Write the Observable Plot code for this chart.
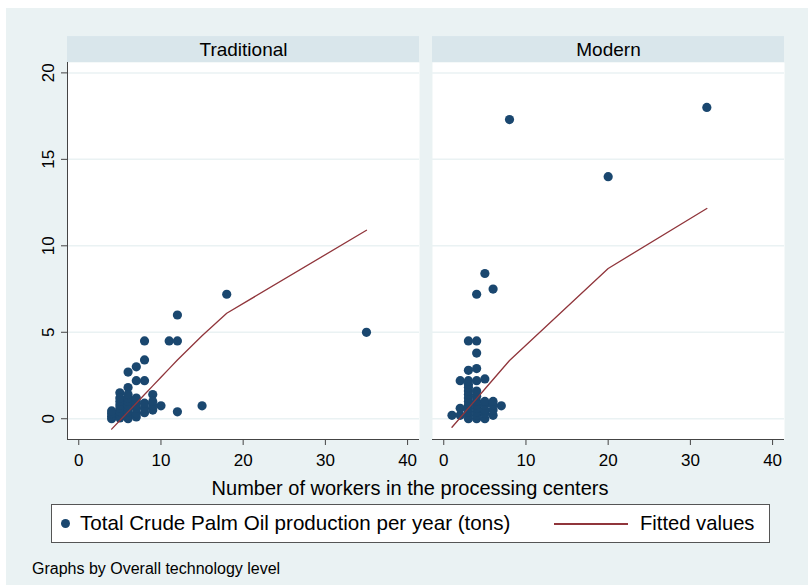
<!DOCTYPE html>
<html>
<head>
<meta charset="utf-8">
<script src="https://cdn.jsdelivr.net/npm/d3@7"></script>
<script src="https://cdn.jsdelivr.net/npm/@observablehq/plot@0.6"></script>
<style>
  body { margin: 0; background: #ffffff; font-family: "Liberation Sans", Arial, sans-serif; }
  #bg { position: absolute; left: 6px; top: 8px; width: 802px; height: 577px; background: #eaf2f3; }
  #chart { position: absolute; left: 0; top: 0; }
  #xtitle { position: absolute; left: 0; width: 820px; top: 477px; text-align: center; font-size: 20px; line-height: 22px; color: #000; }
  #legend { position: absolute; left: 51px; top: 504px; width: 717px; height: 37px; background: #fff; border: 1px solid #555; }
  #legend .dot { position: absolute; left: 9px; top: 14px; width: 9px; height: 9px; border-radius: 50%; background: #1a476f; }
  #legend .t1 { position: absolute; left: 28px; top: 7px; font-size: 20.6px; line-height: 22px; white-space: nowrap; }
  #legend .ln { position: absolute; left: 502px; top: 18px; width: 74px; height: 2px; background: #90353b; }
  #legend .t2 { position: absolute; left: 588px; top: 7px; font-size: 20.2px; line-height: 22px; white-space: nowrap; }
  #caption { position: absolute; left: 32px; top: 560px; font-size: 16px; line-height: 17px; white-space: nowrap; }
</style>
</head>
<body>
<div id="bg"></div>
<div id="chart"></div>
<div id="xtitle"></div>
<div id="legend"><div class="dot"></div><div class="t1"></div><div class="ln"></div><div class="t2"></div></div>
<div id="caption"></div>
<script>
const facets = ["Traditional", "Modern"];
const xTicks = [0, 10, 20, 30, 40];
const yTicks = [0, 5, 10, 15, 20];
const xTitle = "Number of workers in the processing centers";
const legendPoints = "Total Crude Palm Oil production per year (tons)";
const legendFit = "Fitted values";
const caption = "Graphs by Overall technology level";

// Traditional: workers (x) vs CPO production (tons)
const tradX = [35, 18, 12, 8, 11, 12, 8, 7, 6, 7, 8, 6, 5, 9, 10, 12, 15,
  4, 4, 4, 4,
  5, 5, 5, 5, 5, 5, 5,
  6, 6, 6, 6, 6, 6, 6, 6,
  7, 7, 7, 7, 7, 7,
  8, 8, 8,
  9, 9, 9];
const tradY = [5.0, 7.2, 6.0, 4.5, 4.5, 4.5, 3.4, 3.0, 2.7, 2.2, 2.2, 1.8, 1.5, 1.4, 0.75, 0.4, 0.75,
  0.0, 0.15, 0.3, 0.45,
  0.05, 0.2, 0.4, 0.6, 0.8, 1.0, 1.2,
  0.0, 0.2, 0.4, 0.6, 0.8, 1.0, 1.2, 1.4,
  0.1, 0.3, 0.6, 0.8, 1.0, 1.2,
  0.35, 0.6, 0.9,
  0.5, 0.75, 1.0];

// Modern
const modX = [8, 20, 32, 5, 6, 4, 3, 4, 4, 3, 4, 2, 5, 7, 1,
  2, 2,
  3, 3, 3, 3, 3, 3, 3, 3, 3, 3, 3, 3,
  4, 4, 4, 4, 4, 4, 4, 4, 4,
  5, 5, 5, 5, 5,
  6, 6, 6, 6];
const modY = [17.3, 14.0, 18.0, 8.4, 7.5, 7.2, 4.5, 4.5, 3.8, 2.8, 2.9, 2.2, 2.3, 0.75, 0.2,
  0.2, 0.6,
  0.0, 0.2, 0.4, 0.6, 0.8, 1.0, 1.2, 1.4, 1.6, 1.8, 2.0, 2.2,
  0.0, 0.2, 0.4, 0.6, 0.8, 1.0, 1.3, 1.6, 2.2,
  0.0, 0.3, 0.5, 0.8, 1.0,
  0.2, 0.5, 0.8, 1.0];

// Fitted values
const tradFitX = [4, 5, 6, 7, 8, 9, 10, 11, 12, 15, 18, 35];
const tradFitY = [-0.6, -0.1, 0.4, 0.9, 1.4, 1.9, 2.4, 2.9, 3.4, 4.8, 6.1, 10.9];
const modFitX = [1, 2, 3, 4, 5, 6, 7, 8, 20, 32];
const modFitY = [-0.49, 0.06, 0.61, 1.16, 1.72, 2.27, 2.82, 3.37, 8.69, 12.16];

const points = [
  ...tradX.map((x, i) => ({tech: "Traditional", x, y: tradY[i]})),
  ...modX.map((x, i) => ({tech: "Modern", x, y: modY[i]}))
];
const fits = [
  ...tradFitX.map((x, i) => ({tech: "Traditional", x, y: tradFitY[i]})),
  ...modFitX.map((x, i) => ({tech: "Modern", x, y: modFitY[i]}))
];

const xDom = [-1.37, 41.45];
const yDom = [-1.2, 20.6];
const xMid = (xDom[0] + xDom[1]) / 2;

const chart = Plot.plot({
  width: 808,
  height: 500,
  marginLeft: 66,
  marginRight: 23,
  marginTop: 62,
  marginBottom: 61,
  style: {background: "transparent", fontFamily: "'Liberation Sans', Arial, sans-serif", color: "#000"},
  fx: {domain: facets, paddingInner: 0.0355, paddingOuter: 0, axis: null, label: null},
  x: {domain: xDom, label: null},
  y: {domain: yDom, label: null},
  marks: [
    Plot.frame({fill: "white", stroke: "none"}),
    Plot.ruleY(yTicks, {stroke: "#eaf2f3", strokeWidth: 1.5}),
    Plot.rect([0], {x1: xDom[0], x2: xDom[1], y1: yDom[1], y2: 22.1, fill: "#d9e6eb"}),
    Plot.text(facets, {fx: d => d, text: d => d, x: xMid, y: 21.35, fontSize: 19, fill: "#000"}),
    Plot.ruleY([yDom[0]], {stroke: "#444", strokeWidth: 1}),
    Plot.ruleX([{tech: "Traditional", x: xDom[0]}], {fx: "tech", x: "x", stroke: "#444", strokeWidth: 1}),
    Plot.axisX({ticks: xTicks, tickSize: 6, tickPadding: 8, fontSize: 17, label: null, anchor: "bottom", stroke: "#444"}),
    Plot.axisY({ticks: yTicks, tickSize: 6, tickPadding: 8, tickRotate: -90, fontSize: 17, label: null, anchor: "left", stroke: "#444"}),
    Plot.dot(points, {fx: "tech", x: "x", y: "y", r: 4.6, fill: "#1a476f", stroke: "none"}),
    Plot.line(fits, {fx: "tech", x: "x", y: "y", stroke: "#90353b", strokeWidth: 1.3})
  ]
});
document.getElementById("chart").appendChild(chart);
document.getElementById("xtitle").textContent = xTitle;
document.querySelector("#legend .t1").textContent = legendPoints;
document.querySelector("#legend .t2").textContent = legendFit;
document.getElementById("caption").textContent = caption;
</script>
</body>
</html>
